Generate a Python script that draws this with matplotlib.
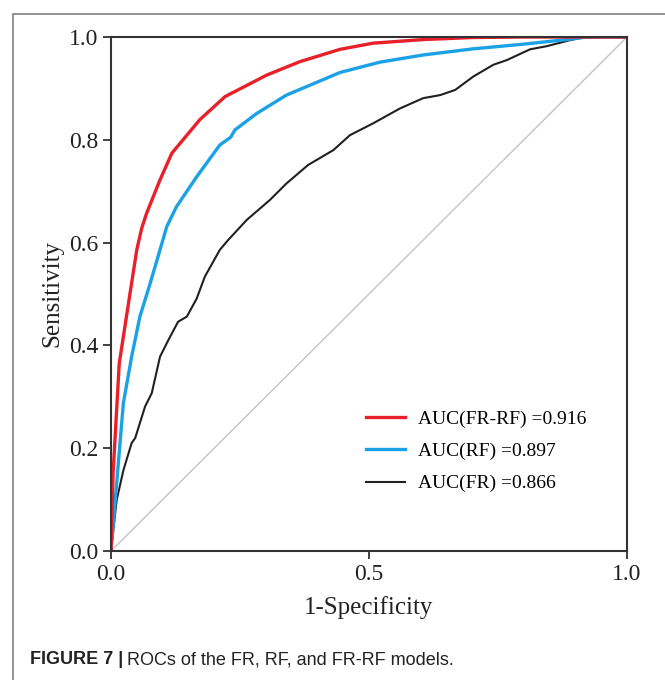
import matplotlib
matplotlib.use('Agg')
import matplotlib.pyplot as plt
from matplotlib.patches import Rectangle

# ROC points (1-specificity, sensitivity)
fpr_frrf = [0.0, 0.004, 0.016, 0.037, 0.05, 0.0595, 0.069, 0.095, 0.118, 0.172, 0.221,
            0.302, 0.366, 0.444, 0.508, 0.605, 0.702, 0.8, 1.0]
tpr_frrf = [0.0, 0.15, 0.365, 0.502, 0.586, 0.628, 0.657, 0.722, 0.774, 0.839, 0.884,
            0.926, 0.952, 0.976, 0.988, 0.995, 0.999, 1.0, 1.0]

fpr_rf = [0.0, 0.011, 0.024, 0.04, 0.056, 0.076, 0.095, 0.108, 0.127, 0.166, 0.211,
          0.232, 0.24, 0.282, 0.34, 0.418, 0.444, 0.521, 0.605, 0.702, 0.799, 0.883,
          0.922, 1.0]
tpr_rf = [0.0, 0.132, 0.288, 0.378, 0.456, 0.521, 0.586, 0.631, 0.67, 0.728, 0.79,
          0.805, 0.819, 0.851, 0.887, 0.92, 0.931, 0.951, 0.965, 0.977, 0.986, 0.995,
          1.0, 1.0]

fpr_fr = [0.0, 0.011, 0.024, 0.04, 0.047, 0.066, 0.079, 0.095, 0.111, 0.13, 0.147,
          0.166, 0.182, 0.211, 0.227, 0.263, 0.308, 0.34, 0.382, 0.431, 0.463, 0.508,
          0.56, 0.605, 0.638, 0.667, 0.702, 0.741, 0.767, 0.812, 0.844, 0.89, 0.915,
          0.95, 1.0]
tpr_fr = [0.0, 0.099, 0.157, 0.21, 0.22, 0.281, 0.307, 0.378, 0.41, 0.446, 0.456,
          0.491, 0.534, 0.586, 0.605, 0.644, 0.683, 0.715, 0.751, 0.78, 0.809, 0.832,
          0.861, 0.881, 0.887, 0.897, 0.923, 0.946, 0.955, 0.976, 0.982, 0.994, 0.999,
          1.0, 1.0]

labels = ['AUC(FR-RF) =0.916', 'AUC(RF) =0.897', 'AUC(FR) =0.866']
x_ticks = [0.0, 0.5, 1.0]
y_ticks = [0.0, 0.2, 0.4, 0.6, 0.8, 1.0]

plt.rcParams['font.family'] = ['Liberation Serif', 'DejaVu Serif']

fig = plt.figure(figsize=(6.65, 6.8), dpi=100)
ax = fig.add_axes([0.1669, 0.1897, 0.776, 0.7559])

ax.plot([0, 1], [0, 1], color='#c4c4c4', lw=1.0)
ax.plot(fpr_fr, tpr_fr, color='#231f20', lw=1.5, label=labels[2])
ax.plot(fpr_rf, tpr_rf, color='#1aa1e6', lw=2.4, label=labels[1])
ax.plot(fpr_frrf, tpr_frrf, color='#e8202a', lw=2.4, label=labels[0])

ax.set_xlim(0, 1)
ax.set_ylim(0, 1)
ax.set_xticks(x_ticks)
ax.set_yticks(y_ticks)
ax.set_xticklabels(['%.1f' % t for t in x_ticks])
ax.set_yticklabels(['%.1f' % t for t in y_ticks])
ax.tick_params(direction='out', length=6, width=1.3, labelsize=17, color='#333333',
               labelcolor='#222222', pad=3)
for sp in ax.spines.values():
    sp.set_linewidth(1.5)
    sp.set_color('#333333')

ax.set_xlabel('1-Specificity', fontsize=18, color='#222222', labelpad=8)
ax.set_ylabel('Sensitivity', fontsize=18, color='#222222', labelpad=4)

handles, labs = ax.get_legend_handles_labels()
ax.legend(handles[::-1], labs[::-1], loc='lower right', bbox_to_anchor=(0.955, 0.08),
          frameon=False, fontsize=14, handlelength=2.0, handletextpad=0.65,
          labelspacing=0.75)

# grey frame of the figure panel
fig.add_artist(Rectangle((13 / 665, -0.1), 1.2, 1.1 - 14 / 680,
                         transform=fig.transFigure, fill=False,
                         edgecolor='#8c8c8c', lw=1.3))

fig.text(30 / 665, 1 - 660 / 680, 'FIGURE 7 |', fontsize=13, fontweight='bold',
         family='Liberation Sans', va='center', ha='left', color='#222222')
fig.text(127 / 665, 1 - 660 / 680, 'ROCs of the FR, RF, and FR-RF models.', fontsize=13,
         family='Liberation Sans', va='center', ha='left', color='#222222')

fig.savefig('out.png', dpi=100)
